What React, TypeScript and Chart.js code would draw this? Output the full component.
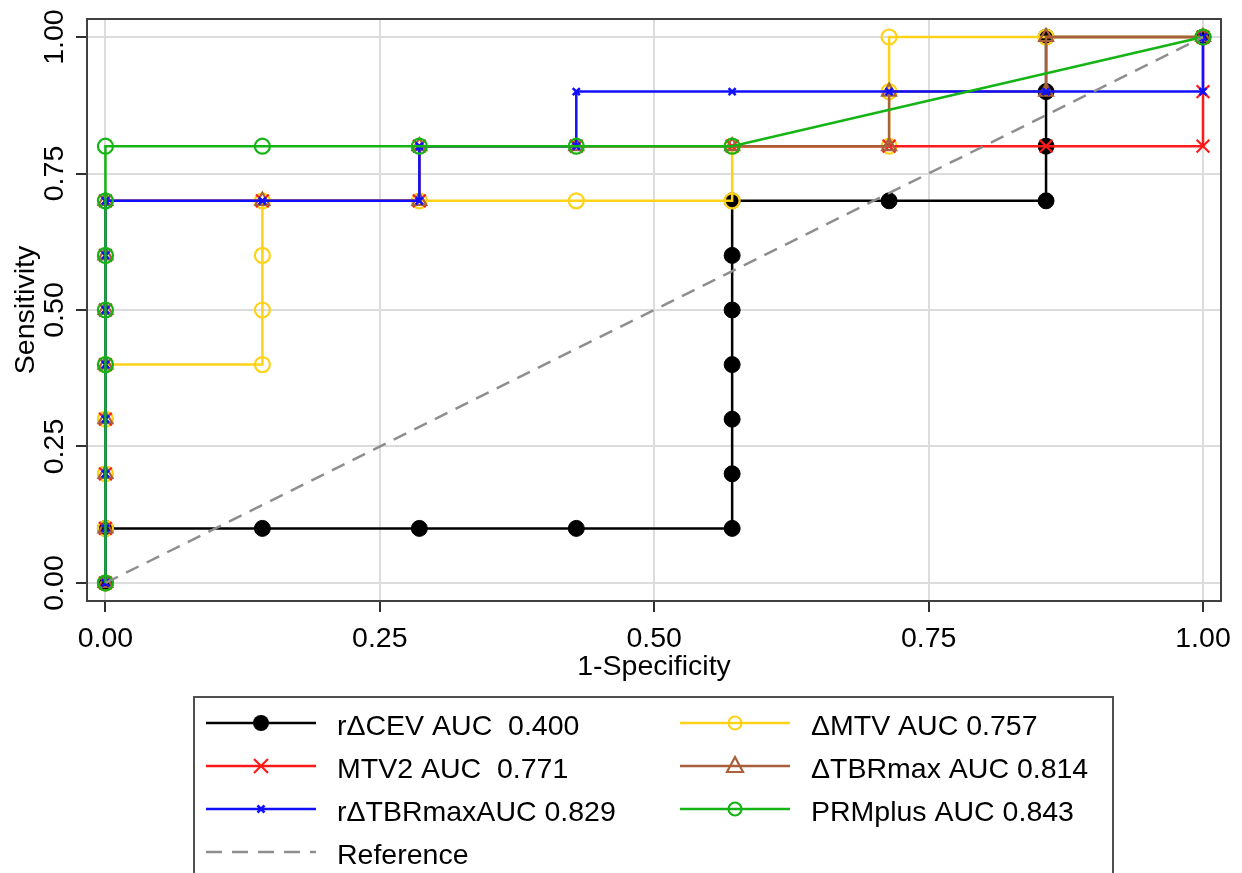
import React, { useEffect, useRef } from 'react';
import { Chart, registerables } from 'chart.js';

Chart.register(...registerables);

// ---------- data ----------
const axisTicks = [0, 0.25, 0.5, 0.75, 1];
const axisTickLabels = ['0.00', '0.25', '0.50', '0.75', '1.00'];
const xTitle = '1-Specificity';
const yTitle = 'Sensitivity';

const cevX = [0, 0, 0.143, 0.286, 0.429, 0.571, 0.571, 0.571, 0.571, 0.571, 0.571, 0.571, 0.714, 0.857, 0.857, 0.857, 0.857, 1];
const cevY = [0, 0.1, 0.1, 0.1, 0.1, 0.1, 0.2, 0.3, 0.4, 0.5, 0.6, 0.7, 0.7, 0.7, 0.8, 0.9, 1.0, 1];

const mtvX = [0, 0, 0, 0, 0, 0.143, 0.143, 0.143, 0.143, 0.286, 0.429, 0.571, 0.571, 0.714, 0.714, 0.714, 0.857, 1];
const mtvY = [0, 0.1, 0.2, 0.3, 0.4, 0.4, 0.5, 0.6, 0.7, 0.7, 0.7, 0.7, 0.8, 0.8, 0.9, 1.0, 1.0, 1];

const mtv2X = [0, 0, 0, 0, 0, 0, 0, 0, 0.143, 0.286, 0.286, 0.429, 0.571, 0.714, 0.857, 1, 1, 1];
const mtv2Y = [0, 0.1, 0.2, 0.3, 0.4, 0.5, 0.6, 0.7, 0.7, 0.7, 0.8, 0.8, 0.8, 0.8, 0.8, 0.8, 0.9, 1];

const tbrX = [0, 0, 0, 0, 0, 0, 0, 0, 0.143, 0.286, 0.286, 0.429, 0.571, 0.714, 0.714, 0.857, 0.857, 1];
const tbrY = [0, 0.1, 0.2, 0.3, 0.4, 0.5, 0.6, 0.7, 0.7, 0.7, 0.8, 0.8, 0.8, 0.8, 0.9, 0.9, 1.0, 1];

const rtbrX = [0, 0, 0, 0, 0, 0, 0, 0, 0.143, 0.286, 0.286, 0.429, 0.429, 0.571, 0.714, 0.857, 1, 1];
const rtbrY = [0, 0.1, 0.2, 0.3, 0.4, 0.5, 0.6, 0.7, 0.7, 0.7, 0.8, 0.8, 0.9, 0.9, 0.9, 0.9, 0.9, 1];

const prmX = [0, 0, 0, 0, 0, 0, 0.143, 0.286, 0.429, 0.571, 1];
const prmY = [0, 0.4, 0.5, 0.6, 0.7, 0.8, 0.8, 0.8, 0.8, 0.8, 1];

const refX = [0, 1];
const refY = [0, 1];

const seriesNames = [
  'rΔCEV AUC  0.400',
  'ΔMTV AUC 0.757',
  'MTV2 AUC  0.771',
  'ΔTBRmax AUC 0.814',
  'rΔTBRmaxAUC 0.829',
  'PRMplus AUC 0.843',
  'Reference',
];

// ---------- styles ----------
const FONT = '"Liberation Sans", Arial, Helvetica, sans-serif';
type Marker = 'dot' | 'ring' | 'x' | 'smallx' | 'tri' | 'none';
interface Series {
  name: string;
  xs: number[];
  ys: number[];
  color: string;
  marker: Marker;
  dash?: number[];
}
const series: Series[] = [
  { name: seriesNames[0], xs: cevX, ys: cevY, color: '#000000', marker: 'dot' },
  { name: seriesNames[1], xs: mtvX, ys: mtvY, color: '#ffd21a', marker: 'ring' },
  { name: seriesNames[2], xs: mtv2X, ys: mtv2Y, color: '#ff1a1a', marker: 'x' },
  { name: seriesNames[3], xs: tbrX, ys: tbrY, color: '#a8603c', marker: 'tri' },
  { name: seriesNames[4], xs: rtbrX, ys: rtbrY, color: '#1010ff', marker: 'smallx' },
  { name: seriesNames[5], xs: prmX, ys: prmY, color: '#14b414', marker: 'ring' },
  { name: seriesNames[6], xs: refX, ys: refY, color: '#8e8e8e', marker: 'none', dash: [14, 9] },
];

function pointOpts(m: Marker, color: string) {
  switch (m) {
    case 'dot':
      return { pointStyle: 'circle', pointRadius: 8, pointBackgroundColor: color, pointBorderColor: color, pointBorderWidth: 1 };
    case 'ring':
      return { pointStyle: 'circle', pointRadius: 7.5, pointBackgroundColor: 'rgba(0,0,0,0)', pointBorderColor: color, pointBorderWidth: 2.2 };
    case 'x':
      return { pointStyle: 'crossRot', pointRadius: 9, pointBackgroundColor: color, pointBorderColor: color, pointBorderWidth: 2.2 };
    case 'smallx':
      return { pointStyle: 'crossRot', pointRadius: 5, pointBackgroundColor: color, pointBorderColor: color, pointBorderWidth: 2.5 };
    case 'tri':
      return { pointStyle: 'triangle', pointRadius: 8, pointBackgroundColor: 'rgba(0,0,0,0)', pointBorderColor: color, pointBorderWidth: 2.2 };
    default:
      return { pointRadius: 0 };
  }
}

function drawMarker(ctx: CanvasRenderingContext2D, m: Marker, x: number, y: number, color: string) {
  ctx.save();
  ctx.strokeStyle = color;
  ctx.fillStyle = color;
  ctx.lineWidth = 2.2;
  if (m === 'dot') {
    ctx.beginPath();
    ctx.arc(x, y, 8, 0, Math.PI * 2);
    ctx.fill();
  } else if (m === 'ring') {
    ctx.beginPath();
    ctx.arc(x, y, 6.5, 0, Math.PI * 2);
    ctx.stroke();
  } else if (m === 'x' || m === 'smallx') {
    const r = m === 'x' ? 7 : 3.5;
    ctx.lineWidth = m === 'x' ? 2.2 : 2.5;
    ctx.beginPath();
    ctx.moveTo(x - r, y - r);
    ctx.lineTo(x + r, y + r);
    ctx.moveTo(x + r, y - r);
    ctx.lineTo(x - r, y + r);
    ctx.stroke();
  } else if (m === 'tri') {
    ctx.beginPath();
    ctx.moveTo(x, y - 9);
    ctx.lineTo(x + 8, y + 6);
    ctx.lineTo(x - 8, y + 6);
    ctx.closePath();
    ctx.stroke();
  }
  ctx.restore();
}

const customPlugin = {
  id: 'stataLook',
  beforeDatasetsDraw(chart: any) {
    const { ctx, chartArea: a } = chart;
    ctx.save();
    ctx.strokeStyle = '#404040';
    ctx.lineWidth = 2;
    ctx.strokeRect(a.left, a.top, a.right - a.left, a.bottom - a.top);
    ctx.restore();
  },
  afterDraw(chart: any) {
    const { ctx, chartArea: a } = chart;
    const xs = chart.scales.x;
    const ys = chart.scales.y;
    ctx.save();
    ctx.fillStyle = '#000';
    ctx.font = `28.5px ${FONT}`;
    // x tick labels
    ctx.textAlign = 'center';
    ctx.textBaseline = 'alphabetic';
    axisTicks.forEach((v, i) => {
      ctx.fillText(axisTickLabels[i], xs.getPixelForValue(v), 647);
    });
    // x title
    ctx.fillText(xTitle, (a.left + a.right) / 2, 675);
    // y tick labels (rotated)
    axisTicks.forEach((v, i) => {
      ctx.save();
      ctx.translate(63, ys.getPixelForValue(v));
      ctx.rotate(-Math.PI / 2);
      ctx.fillText(axisTickLabels[i], 0, 0);
      ctx.restore();
    });
    // y title
    ctx.save();
    ctx.translate(34, (a.top + a.bottom) / 2);
    ctx.rotate(-Math.PI / 2);
    ctx.fillText(yTitle, 0, 0);
    ctx.restore();

    // legend box
    ctx.strokeStyle = '#505050';
    ctx.lineWidth = 2;
    ctx.strokeRect(194, 697, 1113 - 194, 873 - 697 + 10);

    const rowY = [723, 766, 809, 852];
    const colX = [206, 680];
    ctx.textAlign = 'left';
    series.forEach((s, i) => {
      const col = i % 2;
      const row = Math.floor(i / 2);
      const lx = colX[col];
      const ly = rowY[row];
      ctx.save();
      ctx.strokeStyle = s.color;
      ctx.lineWidth = 2.5;
      if (s.dash) ctx.setLineDash([16, 10]);
      ctx.beginPath();
      ctx.moveTo(lx, ly);
      ctx.lineTo(lx + 110, ly);
      ctx.stroke();
      ctx.restore();
      drawMarker(ctx, s.marker, lx + 55, ly, s.color);
      ctx.fillStyle = '#000';
      ctx.fillText(s.name, lx + 131, ly + 12);
    });
    ctx.restore();
  },
};

export default function App() {
  const ref = useRef<HTMLCanvasElement>(null);
  useEffect(() => {
    const canvas = ref.current;
    if (!canvas) return;
    const n = series.length;
    const datasets = series.map((s, i) => ({
      label: s.name,
      data: s.xs.map((x, k) => ({ x, y: s.ys[k] })),
      showLine: true,
      borderColor: s.color,
      backgroundColor: s.color,
      borderWidth: 2.5,
      borderDash: s.dash || [],
      tension: 0,
      order: s.marker === 'none' ? 0 : n - i,
      ...pointOpts(s.marker, s.color),
    }));
    const gridCommon = {
      color: '#dcdcdc',
      lineWidth: 2,
      drawTicks: true,
      tickLength: 11,
      tickColor: '#303030',
      tickWidth: 2,
    };
    const chart = new Chart(canvas, {
      type: 'scatter',
      data: { datasets } as any,
      options: {
        responsive: false,
        maintainAspectRatio: false,
        animation: false,
        devicePixelRatio: 1,
        layout: { padding: { left: 0, right: 21, top: 19, bottom: 873 - 601 - 40 } },
        plugins: { legend: { display: false }, tooltip: { enabled: false } },
        scales: {
          x: {
            type: 'linear',
            min: -0.0168,
            max: 1.0164,
            afterBuildTicks: (s: any) => { s.ticks = axisTicks.map((v) => ({ value: v })); },
            afterFit: (s: any) => { s.height = 40; },
            ticks: { display: false },
            grid: gridCommon,
            border: { display: false },
          },
          y: {
            type: 'linear',
            min: -0.033,
            max: 1.033,
            afterBuildTicks: (s: any) => { s.ticks = axisTicks.map((v) => ({ value: v })); },
            afterFit: (s: any) => { s.width = 87; },
            ticks: { display: false },
            grid: gridCommon,
            border: { display: false },
          },
        },
      } as any,
      plugins: [customPlugin],
    });
    return () => chart.destroy();
  }, []);
  return (
    <div style={{ position: 'fixed', left: 0, top: 0, width: 1242, height: 873, background: '#fff' }}>
      <canvas ref={ref} width={1242} height={873} style={{ display: 'block', width: 1242, height: 873 }} />
    </div>
  );
}
